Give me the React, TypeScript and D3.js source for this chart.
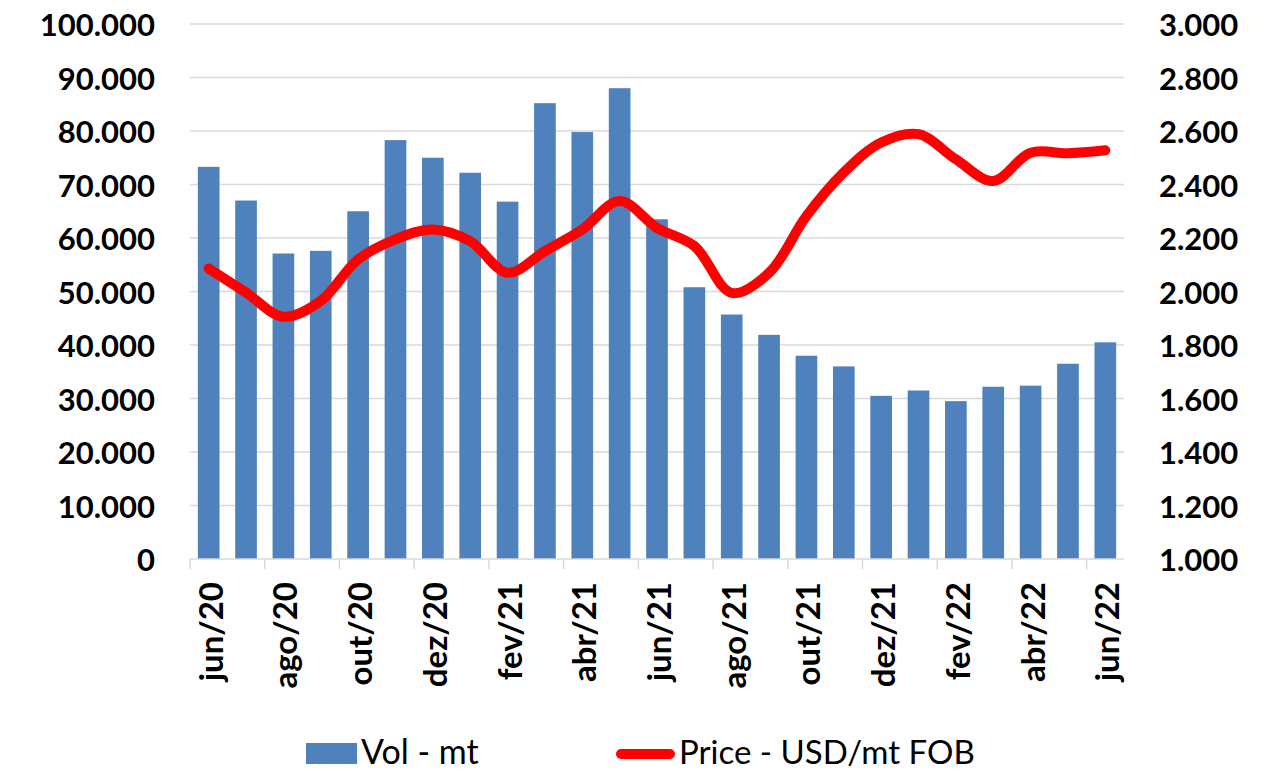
import React from "react";
import * as d3 from "d3";

const months = [
  "jun/20", "jul/20", "ago/20", "set/20", "out/20", "nov/20", "dez/20",
  "jan/21", "fev/21", "mar/21", "abr/21", "mai/21", "jun/21", "jul/21",
  "ago/21", "set/21", "out/21", "nov/21", "dez/21", "jan/22", "fev/22",
  "mar/22", "abr/22", "mai/22", "jun/22",
];
const volume = [
  73300, 67000, 57100, 57600, 65000, 78300, 75000, 72200, 66800, 85200,
  79800, 88000, 63500, 50800, 45700, 41900, 38000, 36000, 30500, 31500,
  29500, 32200, 32400, 36500, 40500,
];
const price = [
  2086, 1996, 1906, 1965, 2120, 2195, 2232, 2188, 2070, 2151, 2232, 2338,
  2238, 2170, 1995, 2070, 2282, 2445, 2557, 2588, 2494, 2413, 2519, 2517,
  2528,
];
const volTicks = [0, 10000, 20000, 30000, 40000, 50000, 60000, 70000, 80000, 90000, 100000];
const priceTicks = [1000, 1200, 1400, 1600, 1800, 2000, 2200, 2400, 2600, 2800, 3000];
const seriesNames = ["Vol - mt", "Price - USD/mt FOB"];

const W = 1276;
const H = 771;
const left = 190;
const right = 1124;
const top = 24;
const bottom = 559;

const fmt = d3
  .formatLocale({ decimal: ",", thousands: ".", grouping: [3], currency: ["", ""] })
  .format(",");

const FONT = "Lato, 'Open Sans', sans-serif";

export default function App() {
  const x = d3.scaleBand<string>().domain(months).range([left, right]).paddingInner(0.42).paddingOuter(0.21);
  const step = x.step();
  const yL = d3.scaleLinear().domain([0, 100000]).range([bottom, top]);
  const yR = d3.scaleLinear().domain([1000, 3000]).range([bottom, top]);
  const cx = (m: string) => (x(m) as number) + x.bandwidth() / 2;

  const line = d3
    .line<number>()
    .x((_, i) => cx(months[i]))
    .y((d) => yR(d))
    .curve(d3.curveCatmullRom.alpha(0.5));

  const tickIdx = d3.range(0, months.length, 2);

  return (
    <svg width={W} height={H} style={{ position: "absolute", left: 0, top: 0, background: "#fff" }}>
      {/* gridlines */}
      {volTicks.filter((t) => t > 0).map((t) => (
        <line key={t} x1={left} x2={right} y1={yL(t)} y2={yL(t)} stroke="#D9D9D9" strokeWidth={1.5} />
      ))}
      {/* bars */}
      {volume.map((v, i) => (
        <rect
          key={months[i]}
          x={x(months[i])}
          y={yL(v)}
          width={x.bandwidth()}
          height={yL(0) - yL(v)}
          fill="#4F81BD"
        />
      ))}
      {/* bottom axis */}
      <line x1={left} x2={right} y1={bottom} y2={bottom} stroke="#D9D9D9" strokeWidth={1.5} />
      {tickIdx.map((i) => (
        <line key={i} x1={left + i * step} x2={left + i * step} y1={bottom} y2={bottom + 10} stroke="#D9D9D9" strokeWidth={1.5} />
      ))}
      {tickIdx.map((i) => (
        <text
          key={months[i]}
          transform={`translate(${cx(months[i]) + 1},${582}) rotate(-90)`}
          textAnchor="end"
          dominantBaseline="central"
          fontFamily={FONT}
          fontWeight="bold"
          fontSize={33}
          fill="#000"
        >
          {months[i]}
        </text>
      ))}
      {/* left axis labels */}
      {volTicks.map((t) => (
        <text key={t} x={155} y={yL(t)} textAnchor="end" dominantBaseline="central" fontFamily={FONT} fontWeight="bold" fontSize={31} fill="#000">
          {fmt(t)}
        </text>
      ))}
      {/* right axis labels */}
      {priceTicks.map((t) => (
        <text key={t} x={1159} y={yR(t)} textAnchor="start" dominantBaseline="central" fontFamily={FONT} fontWeight="bold" fontSize={31} fill="#000">
          {fmt(t)}
        </text>
      ))}
      {/* price line */}
      <path d={line(price) || ""} fill="none" stroke="#FF0000" strokeWidth={10} strokeLinecap="round" strokeLinejoin="round" />
      {/* legend */}
      <rect x={306} y={743} width={51} height={21} fill="#4F81BD" />
      <text x={361} y={764} fontFamily={FONT} fontSize={34} fill="#000">{seriesNames[0]}</text>
      <line x1={621} x2={670} y1={754} y2={754} stroke="#FF0000" strokeWidth={10} strokeLinecap="round" />
      <text x={679} y={764} fontFamily={FONT} fontSize={33} fill="#000">{seriesNames[1]}</text>
    </svg>
  );
}
